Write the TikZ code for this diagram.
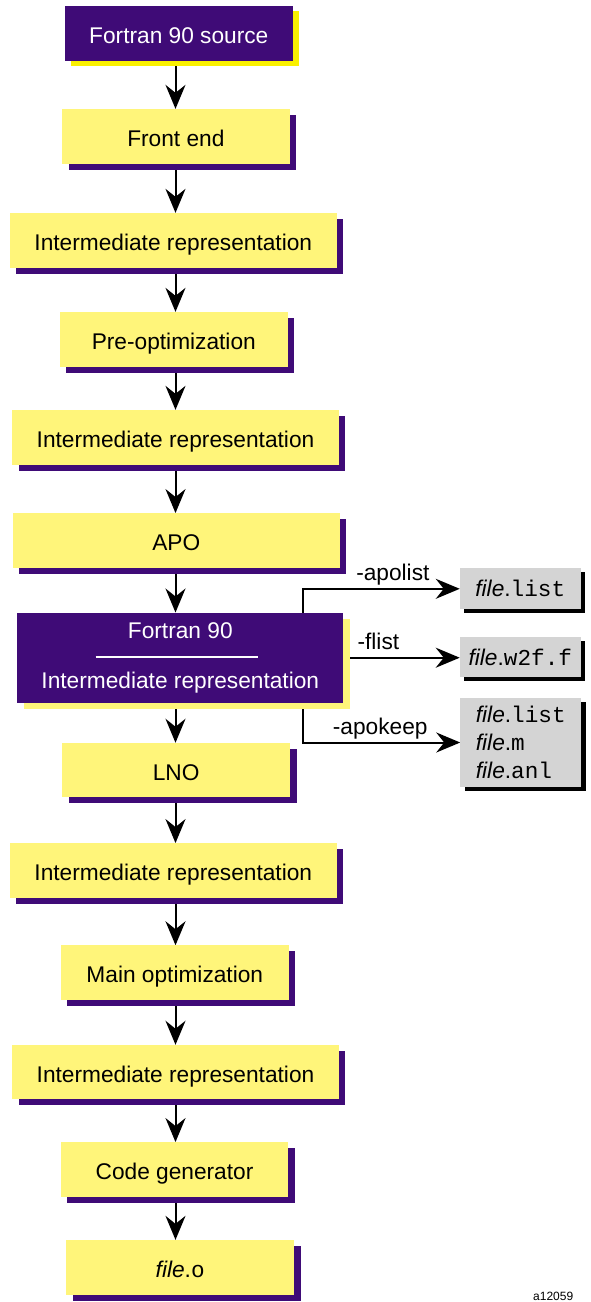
\documentclass[tikz,border=0pt]{standalone}
\usepackage{fontspec}
\setmainfont{Liberation Sans}
\setmonofont{Liberation Mono}
\usetikzlibrary{arrows.meta}
\usetikzlibrary{shadows}
\usetikzlibrary{backgrounds}

\definecolor{irpurple}{HTML}{3F0B77}
\definecolor{iryellow}{HTML}{FFF57A}
\definecolor{srcyellow}{HTML}{FAF000}
\definecolor{filegray}{HTML}{D4D4D4}

\newcommand{\fname}[1]{\textit{file}.\texttt{#1}}

\tikzset{
    every node/.style={font=\fontsize{22.7pt}{28pt}\selectfont},
    stage/.style={fill=iryellow, inner sep=0pt, minimum height=54.5pt, text height=20pt, text depth=0pt,
        drop shadow={shadow xshift=6.5pt, shadow yshift=-6pt, fill=irpurple, opacity=1}},
    short/.style={minimum width=227.7pt},
    wide/.style={minimum width=326.7pt},
    source/.style={fill=irpurple, text=white, inner sep=0pt, minimum width=227.7pt, minimum height=55pt,
        text height=20pt, text depth=0pt,
        drop shadow={shadow xshift=6.5pt, shadow yshift=-5pt, fill=srcyellow, opacity=1}},
    merged/.style={fill=irpurple, text=white, inner sep=0pt, minimum width=326pt, minimum height=90pt, align=center,
        drop shadow={shadow xshift=6.5pt, shadow yshift=-6.5pt, fill=iryellow, opacity=1}},
    outfile/.style={fill=filegray, inner sep=0pt, minimum width=120.7pt,
        drop shadow={shadow xshift=4.5pt, shadow yshift=-4pt, fill=black, opacity=1}},
    flow/.style={-{Stealth[length=24pt, width=20pt, inset=8pt]}, line width=2pt},
    opt/.style={anchor=base, yshift=8pt, inner sep=0pt},
}

\begin{document}
\begin{tikzpicture}[x=1pt, y=-1pt]
    \useasboundingbox (0,0) rectangle (590,1302);
    \coordinate (spine) at (175.5,0);
    \coordinate (tap) at (302.7,0);

    \node[source] (src) at (178.8,33.5) {Fortran 90 source};
    \node[stage, short] (fe) at (175.9,136.3) {Front end};
    \node[stage, wide] (ir1) at (173.3,240.3) {Intermediate representation};
    \node[stage, short] (pre) at (173.8,339.3) {Pre-optimization};
    \node[stage, wide] (ir2) at (175.5,437.3) {Intermediate representation};
    \node[stage, wide] (apo) at (176.3,540.5) {APO};
    \node[merged] (f90) at (180.3,657.7) {Fortran 90\\[22pt]Intermediate representation};
    \node[stage, short] (lno) at (176.2,770.2) {LNO};
    \node[stage, wide] (ir3) at (173.3,870.5) {Intermediate representation};
    \node[stage, short] (main) at (174.8,972.7) {Main optimization};
    \node[stage, wide] (ir4) at (175.5,1072.2) {Intermediate representation};
    \node[stage, short] (cg) at (174.5,1169.5) {Code generator};
    \node[stage, short] (fo) at (180.2,1267.3) {\fname{o}};

    \draw[white, line width=2pt] (f90.center) ++(-84.6,-1) -- ++(162.6,0);

    \node[outfile, minimum height=41pt] (lst) at (520.3,588.8) {\fname{list}};
    \node[outfile, minimum height=40.6pt] (w2f) at (520.3,657) {\fname{w2f.f}};
    \node[outfile, minimum height=88.4pt, align=left] (keep) at (520.8,742.5) {\fname{list}\\\fname{m}\\\fname{anl}};

    \node[anchor=base west, inner sep=0pt, font=\fontsize{12pt}{14pt}\selectfont] (fig) at (533,1300) {a12059};

    \begin{scope}[on background layer]
        \draw[flow] (src.south -| spine) -- (fe.north -| spine);
        \draw[flow] (fe.south -| spine) -- (ir1.north -| spine);
        \draw[flow] (ir1.south -| spine) -- (pre.north -| spine);
        \draw[flow] (pre.south -| spine) -- (ir2.north -| spine);
        \draw[flow] (ir2.south -| spine) -- (apo.north -| spine);
        \draw[flow] (apo.south -| spine) -- (f90.north -| spine);
        \draw[flow] (f90.south -| spine) -- (lno.north -| spine);
        \draw[flow] (lno.south -| spine) -- (ir3.north -| spine);
        \draw[flow] (ir3.south -| spine) -- (main.north -| spine);
        \draw[flow] (main.south -| spine) -- (ir4.north -| spine);
        \draw[flow] (ir4.south -| spine) -- (cg.north -| spine);
        \draw[flow] (cg.south -| spine) -- (fo.north -| spine);

        \draw[flow] (f90.north -| tap) |- node[opt, pos=0.787] {-apolist} (lst.west);
        \draw[flow] (f90.east) -- node[opt, pos=0.3] {-flist} (f90.east -| w2f.west);
        \draw[flow] (f90.south -| tap) |- node[opt, pos=0.746] {-apokeep} (keep.west);
    \end{scope}

\end{tikzpicture}
\end{document}
